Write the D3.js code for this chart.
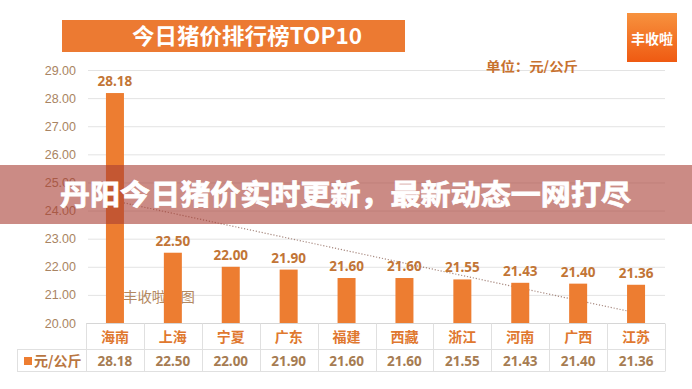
<!DOCTYPE html>
<html>
<head>
<meta charset="utf-8">
<script src="https://cdn.jsdelivr.net/npm/d3@7"></script>
<style>
  body { margin: 0; background: #fff; }
  svg { display: block; font-family: "Noto Sans", "Noto Sans CJK SC", sans-serif; }
</style>
</head>
<body>
<div id="chart"></div>
<script>
var categories = ["海南", "上海", "宁夏", "广东", "福建", "西藏", "浙江", "河南", "广西", "江苏"];
var prices = [28.18, 22.50, 22.00, 21.90, 21.60, 21.60, 21.55, 21.43, 21.40, 21.36];
var yTicks = [20, 21, 22, 23, 24, 25, 26, 27, 28, 29];
var title = "今日猪价排行榜TOP10";
var unitLabel = "单位：元/公斤";
var seriesName = "元/公斤";
var logoText = "丰收啦";
var watermark = "丰收啦制图";
var bannerText = "丹阳今日猪价实时更新，最新动态一网打尽";

var W = 692, H = 389;
var orange = "#ED7D31";
var cjk = '"Noto Sans CJK SC", sans-serif';

var svg = d3.select("#chart").append("svg")
  .attr("width", W)
  .attr("height", H);

var defs = svg.append("defs");
var grad = defs.append("linearGradient")
  .attr("id", "logoGrad")
  .attr("x1", 0).attr("y1", 0).attr("x2", 0).attr("y2", 1);
grad.append("stop").attr("offset", "0%").attr("stop-color", "#F7923E");
grad.append("stop").attr("offset", "100%").attr("stop-color", "#EF5A12");

// scales
var xCol = d3.scaleBand().domain(categories).range([86, 665]);
var y = d3.scaleLinear().domain([20, 29]).range([323, 70]);
var barW = 18;

// grid + y labels
var yAxis = svg.append("g")
  .attr("transform", "translate(88,0)")
  .call(d3.axisLeft(y)
    .tickValues(yTicks)
    .tickSize(-577)
    .tickPadding(12)
    .tickFormat(d3.format(".2f")));
yAxis.select(".domain").remove();
yAxis.selectAll(".tick line").attr("stroke", "#E3E3E3");
yAxis.selectAll(".tick text")
  .attr("fill", "#A98462")
  .style("font-size", "12.5px");

// linear trend line (least squares on the prices)
var idx = d3.range(prices.length);
var mx = d3.mean(idx), my = d3.mean(prices);
var slope = d3.sum(idx, function (i) { return (i - mx) * (prices[i] - my); }) /
  d3.sum(idx, function (i) { return (i - mx) * (i - mx); });
var icpt = my - slope * mx;
var cx = function (i) { return xCol(categories[i]) + xCol.bandwidth() / 2; };
svg.append("line")
  .attr("x1", cx(0)).attr("y1", y(icpt))
  .attr("x2", cx(prices.length - 1)).attr("y2", y(icpt + slope * (prices.length - 1)))
  .attr("stroke", "#A88A80")
  .attr("stroke-width", 1.2)
  .attr("stroke-dasharray", "1.2,1.8");

// watermark under the bars
svg.append("text")
  .attr("x", 123)
  .attr("y", 302)
  .attr("textLength", 72)
  .attr("lengthAdjust", "spacingAndGlyphs")
  .attr("fill", "#B38860")
  .style("font-family", '"Noto Sans CJK SC", serif')
  .style("font-size", "14px")
  .text(watermark);

// bars
svg.selectAll(".bar")
  .data(prices)
  .enter()
  .append("rect")
  .attr("class", "bar")
  .attr("x", function (d, i) { return cx(i) - barW / 2; })
  .attr("y", function (d) { return y(d); })
  .attr("width", barW)
  .attr("height", function (d) { return y(20) - y(d); })
  .attr("fill", orange);

// value labels
svg.selectAll(".val")
  .data(prices)
  .enter()
  .append("text")
  .attr("class", "val")
  .attr("x", function (d, i) { return cx(i); })
  .attr("y", function (d) { return y(d) - 7; })
  .attr("text-anchor", "middle")
  .attr("fill", "#C27536")
  .style("font-size", "13.5px")
  .style("font-weight", "bold")
  .text(function (d) { return d.toFixed(2); });

// data table
var tbl = svg.append("g").attr("stroke", "#E0E0E0").attr("stroke-width", 1);
tbl.append("line").attr("x1", 86).attr("x2", 665).attr("y1", 323.5).attr("y2", 323.5).attr("stroke", "#D6D6D6");
tbl.append("line").attr("x1", 17).attr("x2", 665).attr("y1", 349.5).attr("y2", 349.5);
tbl.append("line").attr("x1", 17).attr("x2", 665).attr("y1", 371.5).attr("y2", 371.5);
tbl.append("line").attr("x1", 17.5).attr("x2", 17.5).attr("y1", 349.5).attr("y2", 371.5);
tbl.selectAll(".vl")
  .data(categories.concat(["end"]))
  .enter()
  .append("line")
  .attr("x1", function (d, i) { return Math.round(86 + i * xCol.step()) + 0.5; })
  .attr("x2", function (d, i) { return Math.round(86 + i * xCol.step()) + 0.5; })
  .attr("y1", 323.5)
  .attr("y2", 371.5);

svg.selectAll(".cat")
  .data(categories)
  .enter()
  .append("text")
  .attr("class", "cat")
  .attr("x", function (d) { return xCol(d) + xCol.bandwidth() / 2; })
  .attr("y", 337)
  .attr("dy", "0.35em")
  .attr("text-anchor", "middle")
  .attr("fill", "#E0782F")
  .style("font-family", cjk)
  .style("font-size", "14px")
  .style("font-weight", "bold")
  .text(function (d) { return d; });

svg.selectAll(".tv")
  .data(prices)
  .enter()
  .append("text")
  .attr("class", "tv")
  .attr("x", function (d, i) { return cx(i); })
  .attr("y", 361)
  .attr("dy", "0.35em")
  .attr("text-anchor", "middle")
  .attr("fill", "#A67C52")
  .style("font-size", "13.5px")
  .style("font-weight", "bold")
  .text(function (d) { return d.toFixed(2); });

// legend cell
svg.append("rect")
  .attr("x", 24).attr("y", 357)
  .attr("width", 8).attr("height", 8)
  .attr("fill", orange);
svg.append("text")
  .attr("x", 34)
  .attr("y", 361)
  .attr("dy", "0.35em")
  .attr("fill", "#B97641")
  .style("font-family", cjk)
  .style("font-size", "14px")
  .style("font-weight", "bold")
  .text(seriesName);

// title banner
svg.append("rect")
  .attr("x", 62).attr("y", 20)
  .attr("width", 343).attr("height", 32)
  .attr("fill", "#EC7A32");
svg.append("text")
  .attr("x", 132)
  .attr("y", 36)
  .attr("dy", "0.36em")
  .attr("textLength", 230)
  .attr("lengthAdjust", "spacingAndGlyphs")
  .attr("fill", "#fff")
  .style("font-family", cjk)
  .style("font-size", "22px")
  .style("font-weight", "bold")
  .text(title);

// unit label
svg.append("text")
  .attr("x", 486)
  .attr("y", 66)
  .attr("dy", "0.35em")
  .attr("textLength", 92)
  .attr("lengthAdjust", "spacingAndGlyphs")
  .attr("fill", "#C8722F")
  .style("font-family", cjk)
  .style("font-size", "13px")
  .style("font-weight", "bold")
  .text(unitLabel);

// logo
svg.append("rect")
  .attr("x", 627).attr("y", 13)
  .attr("width", 50).attr("height", 49)
  .attr("fill", "url(#logoGrad)");
svg.append("text")
  .attr("x", 652)
  .attr("y", 39)
  .attr("dy", "0.35em")
  .attr("text-anchor", "middle")
  .attr("fill", "#fff")
  .style("font-family", cjk)
  .style("font-size", "14px")
  .style("font-weight", "bold")
  .text(logoText);

// overlay band
svg.append("rect")
  .attr("x", 0).attr("y", 165)
  .attr("width", W).attr("height", 59)
  .attr("fill", "rgba(168,62,52,0.6)");
svg.append("text")
  .attr("x", 60)
  .attr("y", 195)
  .attr("dy", "0.36em")
  .attr("textLength", 571)
  .attr("lengthAdjust", "spacingAndGlyphs")
  .attr("fill", "#fff")
  .attr("stroke", "#fff")
  .attr("stroke-width", 0.8)
  .style("font-family", cjk)
  .style("font-size", "28px")
  .style("font-weight", "bold")
  .text(bannerText);
</script>
</body>
</html>
